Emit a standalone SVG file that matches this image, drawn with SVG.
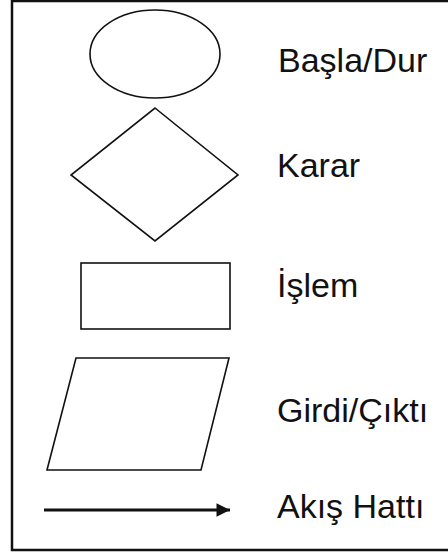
<svg xmlns="http://www.w3.org/2000/svg" width="448" height="555" viewBox="0 0 448 555">
<style>
.shape{fill:none;stroke:#111;stroke-width:1.6}
.lbl{font-family:"Liberation Sans",Arial,sans-serif;font-size:34px;fill:#111}
</style>
<defs>
<marker id="ah" viewBox="0 0 10 10" refX="10" refY="5" markerWidth="6" markerHeight="4.5" markerUnits="strokeWidth" orient="auto">
<path d="M0,0 L10,5 L0,10 z" fill="#111"/>
</marker>
</defs>
<rect width="448" height="555" fill="#fff"/>
<path d="M460,1 L12,1 L12,550 L460,550" fill="none" stroke="#111" stroke-width="2.5"/>
<g id="start-stop">
<ellipse class="shape" cx="155" cy="54" rx="65" ry="44"/>
<text class="lbl" x="278" y="72">Başla/Dur</text>
</g>
<g id="decision">
<polygon class="shape" points="155,108 238,175 155,241 71,175"/>
<text class="lbl" x="277" y="177">Karar</text>
</g>
<g id="process">
<rect class="shape" x="81" y="263" width="149" height="66"/>
<text class="lbl" x="277" y="297">İşlem</text>
</g>
<g id="io">
<polygon class="shape" points="76,358 229,358 201,470 47,470"/>
<text class="lbl" x="277" y="422">Girdi/Çıktı</text>
</g>
<g id="flow">
<text class="lbl" x="277" y="518">Akış Hattı</text>
</g>
<g id="connectors">
<line x1="44" y1="510" x2="230" y2="510" stroke="#111" stroke-width="3" marker-end="url(#ah)"/>
</g>
</svg>
